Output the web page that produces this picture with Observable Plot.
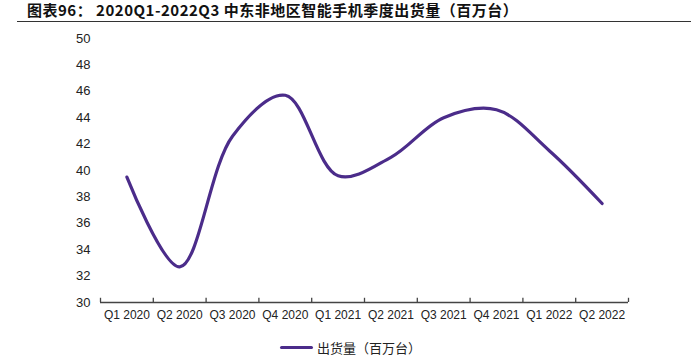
<!DOCTYPE html>
<html>
<head>
<meta charset="utf-8">
<script src="https://cdn.jsdelivr.net/npm/d3@7"></script>
<script src="https://cdn.jsdelivr.net/npm/@observablehq/plot@0.6"></script>
<style>
  body { margin: 0; background: #fff; }
  #wrap { width: 691px; height: 362px; position: relative; overflow: hidden; font-family: "Liberation Sans", Arial, sans-serif; }
  #title { position: absolute; left: 17px; top: 0; width: 674px; height: 21px; border-bottom: 1.5px solid #333; box-sizing: content-box; }
  #title span { position: absolute; left: 10px; top: 1px; font-family: "Noto Sans CJK SC", sans-serif; font-weight: bold; font-size: 15px; line-height: 18px; color: #111; letter-spacing: 0.5px; }
  #chart { position: absolute; left: 0; top: 24px; }
  #legend { position: absolute; left: 280px; top: 337px; height: 20px; display: flex; align-items: center; font-family: "Noto Sans CJK SC", sans-serif; font-size: 13px; color: #222; }
  #legend .sw { width: 33px; height: 3px; background: #4B2C8A; margin-right: 4px; border-radius: 2px; }
</style>
</head>
<body>
<div id="wrap">
  <div id="title"><span>图表96： 2020Q1-2022Q3 中东非地区智能手机季度出货量（百万台）</span></div>
  <div id="chart"></div>
  <div id="legend"><div class="sw"></div><span>出货量（百万台）</span></div>
</div>
<script>
const categories = ["Q1 2020","Q2 2020","Q3 2020","Q4 2020","Q1 2021","Q2 2021","Q3 2021","Q4 2021","Q1 2022","Q2 2022"];
const shipments = [39.5, 32.7, 42.6, 45.7, 39.6, 41.0, 44.0, 44.6, 41.5, 37.5];
const yTicks = [30,32,34,36,38,40,42,44,46,48,50];

const data = shipments.map((v, i) => ({i, v}));
const bounds = d3.range(categories.length + 1);
const centers = d3.range(categories.length).map(i => i + 0.5);

const chart = Plot.plot({
  width: 691,
  height: 306,
  marginTop: 14,
  marginBottom: 28,
  marginLeft: 100,
  marginRight: 63,
  style: { fontFamily: "'Liberation Sans', Arial, sans-serif", fontSize: "12px", color: "#222", background: "#fff" },
  x: { type: "linear", domain: [0, categories.length] },
  y: { domain: [30, 50] },
  marks: [
    Plot.axisY({ ticks: yTicks, tickSize: 0, tickPadding: 10, label: null, fontSize: 13 }),
    Plot.axisX({ ticks: centers, tickSize: 0, tickPadding: 8, tickFormat: d => categories[Math.floor(d)], label: null, fontSize: 12 }),
    Plot.ruleY([30], { x1: 0, x2: categories.length, stroke: "#444", strokeWidth: 1.3 }),
    Plot.ruleX(bounds, { x: d => d, y1: 30, y2: 30.32, stroke: "#444", strokeWidth: 1.3 }),
    Plot.line(data, { x: d => d.i + 0.5, y: "v", curve: "catmull-rom", stroke: "#4B2C8A", strokeWidth: 3.2, strokeLinecap: "round" })
  ]
});
document.getElementById("chart").appendChild(chart);
</script>
</body>
</html>
